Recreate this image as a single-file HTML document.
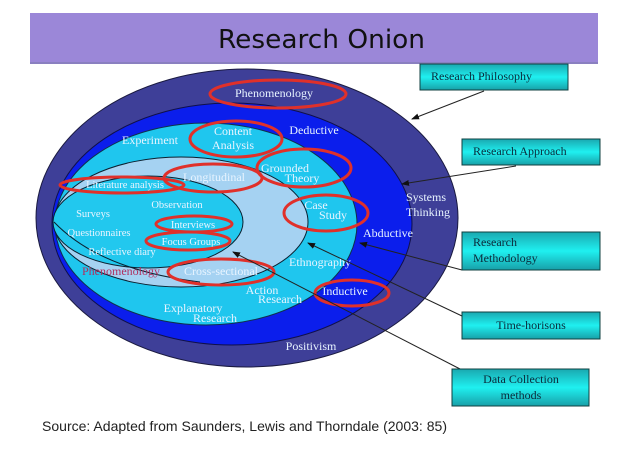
<!DOCTYPE html>
<html><head><style>
body{margin:0;background:#fff;width:638px;height:451px;overflow:hidden}
svg{display:block}
.w{font-family:"Liberation Serif",serif;fill:#e8f4ff;font-size:12px}
.b{font-family:"Liberation Serif",serif;fill:#0a2a3a;font-size:12px}
</style></head><body>
<svg width="638" height="451" viewBox="0 0 638 451">
<defs>
<linearGradient id="g" x1="0" y1="0" x2="0" y2="1"><stop offset="0" stop-color="#1aa8b0"/><stop offset="0.5" stop-color="#1ff0f0"/><stop offset="1" stop-color="#18a0a8"/></linearGradient>
<marker id="a" markerWidth="8" markerHeight="8" refX="7" refY="4" orient="auto"><path d="M0,1 L8,4 L0,7z" fill="#111"/></marker>
</defs>
<rect x="30" y="13" width="568" height="50" fill="#9b87d8"/>
<rect x="30" y="62" width="568" height="2" fill="#8a80c0"/>
<text x="218" y="48" textLength="207" lengthAdjust="spacingAndGlyphs" font-family="'DejaVu Sans',sans-serif" font-size="26" fill="#111">Research Onion</text>
<ellipse cx="247" cy="218" rx="211" ry="149" fill="#3e3f98" stroke="#1a1a40"/>
<ellipse cx="232" cy="224" rx="180" ry="121" fill="#0b1eec" stroke="#10104a"/>
<ellipse cx="206" cy="224" rx="151" ry="101" fill="#1fc6ee" stroke="#10304a"/>
<ellipse cx="181" cy="222" rx="127" ry="65" fill="#a5d2f2" stroke="#0a2030"/>
<ellipse cx="148" cy="222" rx="95" ry="46" fill="#22c8ee" stroke="#0a2030"/>
<path d="M54,222 Q100,270 200,282" fill="none" stroke="#0a2030"/>
<g class="w">
<text x="274" y="97" text-anchor="middle">Phenomenology</text>
<text x="150" y="144" text-anchor="middle">Experiment</text>
<text x="233" y="135" text-anchor="middle">Content</text>
<text x="233" y="149" text-anchor="middle">Analysis</text>
<text x="314" y="134" text-anchor="middle">Deductive</text>
<text x="285" y="172" text-anchor="middle">Grounded</text>
<text x="302" y="182" text-anchor="middle">Theory</text>
<text x="214" y="181" text-anchor="middle">Longitudinal</text>
<text x="125" y="188" text-anchor="middle" font-size="10.5">Literature analysis</text>
<text x="177" y="208" text-anchor="middle" font-size="10.5">Observation</text>
<text x="93" y="217" text-anchor="middle" font-size="10.5">Surveys</text>
<text x="99" y="236" text-anchor="middle" font-size="10.5">Questionnaires</text>
<text x="193" y="228" text-anchor="middle" font-size="10.5">Interviews</text>
<text x="191" y="245" text-anchor="middle" font-size="10.5">Focus Groups</text>
<text x="122" y="255" text-anchor="middle" font-size="10.5">Reflective diary</text>
<text x="221" y="275" text-anchor="middle">Cross-sectional</text>
<text x="316" y="209" text-anchor="middle">Case</text>
<text x="333" y="219" text-anchor="middle">Study</text>
<text x="406" y="201">Systems</text>
<text x="406" y="216">Thinking</text>
<text x="388" y="237" text-anchor="middle">Abductive</text>
<text x="320" y="266" text-anchor="middle">Ethnography</text>
<text x="262" y="294" text-anchor="middle">Action</text>
<text x="280" y="303" text-anchor="middle">Research</text>
<text x="345" y="295" text-anchor="middle">Inductive</text>
<text x="193" y="312" text-anchor="middle">Explanatory</text>
<text x="215" y="322" text-anchor="middle">Research</text>
<text x="311" y="350" text-anchor="middle">Positivism</text>
</g>
<text x="121" y="275" text-anchor="middle" font-family="'Liberation Serif',serif" font-size="12" fill="#b03060">Phenomenology</text>
<g fill="none" stroke="#e0302a" stroke-width="3">
<ellipse cx="278" cy="94" rx="68" ry="14"/>
<ellipse cx="236" cy="139" rx="46" ry="18"/>
<ellipse cx="304" cy="168" rx="47" ry="19"/>
<ellipse cx="213" cy="178" rx="49" ry="14"/>
<ellipse cx="122" cy="185" rx="62" ry="8"/>
<ellipse cx="194" cy="224" rx="38" ry="8"/>
<ellipse cx="188" cy="241" rx="42" ry="9"/>
<ellipse cx="221" cy="272" rx="53" ry="13"/>
<ellipse cx="326" cy="213" rx="42" ry="18"/>
<ellipse cx="352" cy="293" rx="37" ry="13"/>
</g>
<g stroke="#222" stroke-width="1" marker-end="url(#a)">
<line x1="484" y1="91" x2="412" y2="119"/>
<line x1="516" y1="166" x2="402" y2="184"/>
<line x1="462" y1="270" x2="360" y2="243"/>
<line x1="462" y1="316" x2="308" y2="243"/>
<line x1="462" y1="370" x2="233" y2="252"/>
</g>
<g stroke="#104040" stroke-width="1">
<rect x="420" y="64" width="148" height="26" fill="url(#g)"/>
<rect x="462" y="139" width="138" height="26" fill="url(#g)"/>
<rect x="462" y="232" width="138" height="38" fill="url(#g)"/>
<rect x="462" y="312" width="138" height="27" fill="url(#g)"/>
<rect x="452" y="369" width="137" height="37" fill="url(#g)"/>
</g>
<g class="b">
<text x="431" y="80">Research Philosophy</text>
<text x="473" y="155">Research Approach</text>
<text x="473" y="246">Research</text>
<text x="473" y="262">Methodology</text>
<text x="531" y="329" text-anchor="middle">Time-horisons</text>
<text x="521" y="383" text-anchor="middle">Data Collection</text>
<text x="521" y="399" text-anchor="middle">methods</text>
</g>
<text x="42" y="431" textLength="405" lengthAdjust="spacingAndGlyphs" font-family="'Liberation Sans',sans-serif" font-size="14" fill="#222">Source: Adapted from Saunders, Lewis and Thorndale (2003: 85)</text>
</svg>
</body></html>
